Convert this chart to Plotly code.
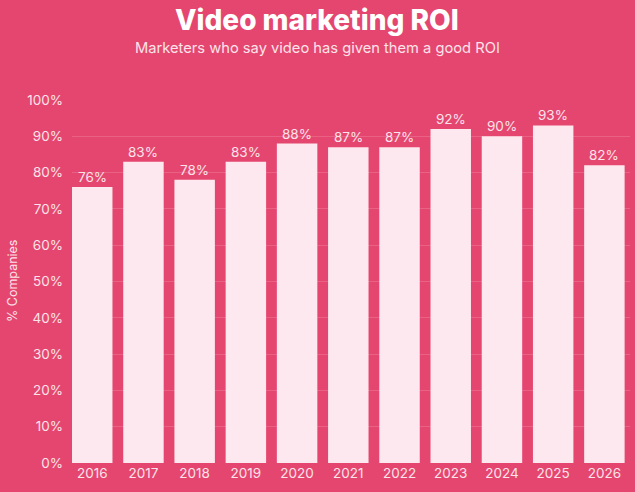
import plotly.graph_objects as go

years = ["2016", "2017", "2018", "2019", "2020", "2021", "2022", "2023", "2024", "2025", "2026"]
roi_pct = [76, 83, 78, 83, 88, 87, 87, 92, 90, 93, 82]
y_ticks = [0, 10, 20, 30, 40, 50, 60, 70, 80, 90, 100]
y_tick_labels = [f"{v}%" for v in y_ticks]

BG = "#E5466F"
BAR = "#FCE8EE"
TXT = "#FCE3EA"

W, H = 635, 492
ML, MR, MT, MB = 72, 5, 100, 29

fig = go.Figure(go.Bar(
    x=list(range(len(years))),
    y=roi_pct,
    marker=dict(color=BAR, line=dict(width=0)),
    width=0.79,
    hovertemplate="%{y}%<extra></extra>",
))

plot_w = W - ML - MR
plot_h = H - MT - MB

def px_x(x):
    return (x - ML) / plot_w

def px_y(y):
    return (H - MB - y) / plot_h

value_labels = [
    dict(text=f"{v}%", x=i, xref="x", y=v, yref="y", yanchor="bottom", xanchor="center",
         yshift=0, showarrow=False, font=dict(size=13.5, color=TXT, family="Inter"))
    for i, v in enumerate(roi_pct)
]

fig.update_layout(
    width=W, height=H,
    paper_bgcolor=BG, plot_bgcolor=BG,
    margin=dict(l=ML, r=MR, t=MT, b=MB, autoexpand=False),
    showlegend=False,
    font=dict(family="Inter", color=TXT),
    xaxis=dict(
        tickmode="array", tickvals=list(range(len(years))), ticktext=years,
        range=[-0.395, 10.5], showgrid=False, zeroline=False, automargin=False,
        tickfont=dict(size=13.5, color=TXT), ticks="", showline=False,
    ),
    yaxis=dict(
        range=[0, 100], tickmode="array", tickvals=y_ticks, ticktext=y_tick_labels,
        tickfont=dict(size=13.5, color=TXT), gridcolor="rgba(255,255,255,0.15)",
        gridwidth=1, zeroline=False, ticks="", ticklabelstandoff=8, automargin=False,
    ),
    annotations=value_labels + [
        dict(text="Video marketing ROI", x=px_x(317), xref="paper", xanchor="center",
             y=px_y(20), yref="paper", yanchor="middle", showarrow=False,
             font=dict(size=28, color="white", family="Inter", weight=800)),
        dict(text="Marketers who say video has given them a good ROI", x=px_x(317), xref="paper",
             xanchor="center", y=px_y(48), yref="paper", yanchor="middle", showarrow=False,
             font=dict(size=14.7, color=TXT, family="Inter")),
        dict(text="% Companies", x=px_x(12), xref="paper", xanchor="center",
             y=px_y(281), yref="paper", yanchor="middle", textangle=-90, showarrow=False,
             font=dict(size=12.5, color=TXT, family="Inter")),
    ],
)

fig.write_html("out.html", config={"displayModeBar": False},
               post_script="document.body.style.margin='0';document.body.style.overflow='hidden';")
